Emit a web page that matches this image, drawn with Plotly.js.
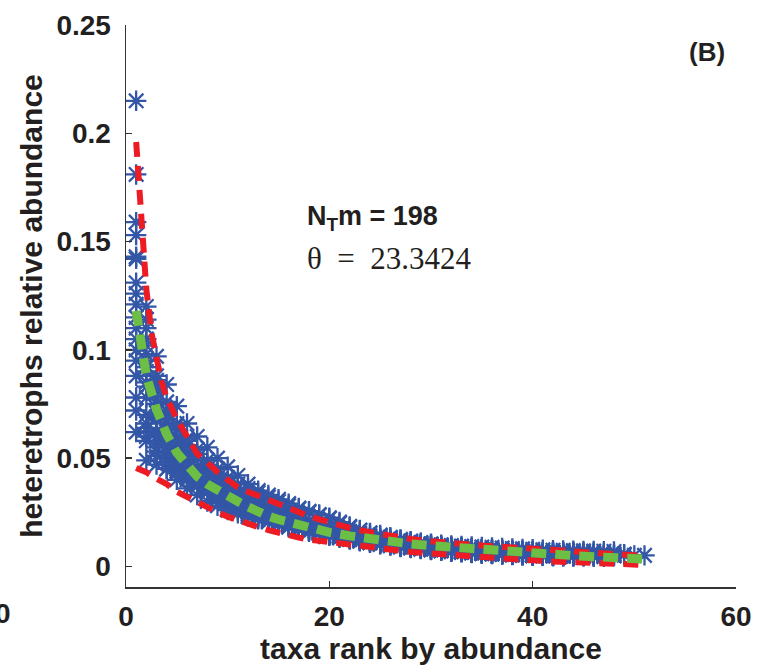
<!DOCTYPE html>
<html>
<head>
<meta charset="utf-8">
<script src="https://cdn.plot.ly/plotly-3.0.1.min.js"></script>
<style>html,body{margin:0;padding:0;background:#fff;}#chart{width:757px;height:667px;}</style>
</head>
<body>
<div id="chart"></div>
<script>
// Simulated ranked relative abundances (one array per realization; index+1 = rank)
var sim1 = [0.215,0.114,0.083,0.070,0.060,0.052,0.046,0.041,0.037,0.034,0.031,0.028,0.026,0.024,0.022,0.0205,0.019,0.0178,0.0166,0.0155,0.0145,0.0136,0.0128,0.0121,0.0114,0.0108,0.0103,0.0099,0.0095,0.0092,0.0089,0.0086,0.0083,0.0080,0.0078,0.0076,0.0074,0.0072,0.0070,0.0068,0.0066,0.0065,0.0064,0.0063];
var sim2 = [0.181,0.105,0.086,0.072,0.063,0.056,0.050,0.045,0.041,0.037,0.034,0.031,0.0285,0.026,0.024,0.022,0.0205,0.019,0.0178,0.0167,0.0157,0.0148,0.0139,0.0131,0.0124,0.0117,0.0111,0.0105,0.0100,0.0096,0.0092,0.0089,0.0086,0.0083,0.0080,0.0078,0.0076,0.0074,0.0072,0.0070,0.0068,0.0067,0.0066,0.0065,0.0064,0.0063];
var sim3 = [0.159,0.120,0.097,0.084,0.074,0.066,0.060,0.055,0.050,0.046,0.042,0.038,0.035,0.033,0.031,0.029,0.027,0.0255,0.024,0.022,0.020,0.018,0.0165,0.0155,0.0145,0.0135,0.0125,0.0117,0.0110,0.0105,0.0100,0.0097,0.0094,0.0092,0.0090,0.0088,0.0085,0.0083,0.0081,0.0079,0.0077,0.0075,0.0074,0.0073,0.0072,0.0071,0.0070,0.0069];
var sim4 = [0.062,0.049,0.047,0.045,0.043,0.040,0.037,0.034,0.031,0.028,0.026,0.024,0.0225,0.021,0.0197,0.0185,0.0174,0.0164,0.0155,0.0146,0.0138,0.0130,0.0122,0.0115,0.0108,0.0101,0.0095,0.0089,0.0084,0.0079,0.0075,0.0071,0.0068,0.0065,0.0062,0.0059,0.0057,0.0055,0.0053,0.0051,0.0050,0.0049];
var sim5 = [0.153,0.098,0.080,0.068,0.058,0.051,0.046,0.042,0.038,0.035,0.032,0.029,0.027,0.025,0.023,0.0215,0.020,0.0187,0.0175,0.0164,0.0154,0.0145,0.0137,0.0129,0.0122,0.0115,0.0109,0.0103,0.0098,0.0093,0.0088,0.0084,0.0080,0.0077,0.0074,0.0071,0.0068,0.0066,0.0064,0.0062,0.0060,0.0058,0.0057,0.0056,0.0055,0.0054,0.0053,0.0052,0.0052,0.0051,0.0051];
var sim6 = [0.143,0.092,0.071,0.060,0.053,0.048,0.044,0.040,0.036,0.033,0.030,0.0275,0.025,0.0232,0.0215,0.020,0.0187,0.0175,0.0164,0.0154,0.0145,0.0136,0.0128,0.0120,0.0113,0.0106,0.0100,0.0094,0.0089,0.0084,0.0080,0.0076,0.0072,0.0069,0.0066,0.0063,0.0060,0.0058,0.0056,0.0054,0.0052,0.0050,0.0049,0.0048,0.0047,0.0046,0.0045];
var sim7 = [0.142,0.110,0.075,0.064,0.056,0.049,0.043,0.039,0.035,0.032,0.029,0.027,0.025,0.0235,0.022,0.0207,0.0195,0.0184,0.0173,0.0163,0.0153,0.0143,0.0134,0.0125,0.0117,0.0110,0.0104,0.0098,0.0093,0.0088,0.0083,0.0079,0.0075,0.0072,0.0069,0.0066,0.0063,0.0061,0.0059,0.0057,0.0055,0.0053,0.0052,0.0051,0.0050,0.0049];
var sim8 = [0.131,0.085,0.068,0.058,0.050,0.045,0.041,0.038,0.035,0.0325,0.030,0.028,0.026,0.024,0.0225,0.021,0.0197,0.0185,0.0174,0.0164,0.0155,0.0147,0.0139,0.0132,0.0125,0.0118,0.0112,0.0106,0.0100,0.0096,0.0092,0.0088,0.0084,0.0081,0.0078,0.0075,0.0073,0.0071,0.0069,0.0067,0.0065,0.0064,0.0063,0.0062,0.0061,0.0060,0.0059,0.0058,0.0057];
var sim9 = [0.126,0.102,0.088,0.076,0.066,0.058,0.052,0.047,0.043,0.039,0.036,0.033,0.030,0.028,0.026,0.024,0.0225,0.021,0.0197,0.0185,0.0173,0.0162,0.0152,0.0142,0.0133,0.0125,0.0118,0.0111,0.0105,0.0099,0.0094,0.0089,0.0084,0.0080,0.0076,0.0073,0.0070,0.0067,0.0064,0.0062,0.0060,0.0058,0.0056,0.0055,0.0054];
var sim10 = [0.115,0.078,0.062,0.053,0.047,0.043,0.039,0.036,0.033,0.030,0.028,0.026,0.024,0.0225,0.021,0.0195,0.0182,0.0170,0.0159,0.0149,0.0140,0.0132,0.0124,0.0117,0.0110,0.0104,0.0098,0.0092,0.0087,0.0082,0.0078,0.0074,0.0070,0.0067,0.0064,0.0061,0.0058,0.0056,0.0054,0.0052,0.0050,0.0048,0.0047,0.0046];
var sim11 = [0.105,0.070,0.058,0.050,0.045,0.041,0.038,0.035,0.032,0.029,0.027,0.025,0.023,0.0215,0.020,0.0187,0.0175,0.0164,0.0154,0.0144,0.0135,0.0126,0.0118,0.0110,0.0103,0.0097,0.0091,0.0086,0.0081,0.0077,0.0073,0.0069,0.0066,0.0063,0.0060,0.0058,0.0056,0.0054,0.0052,0.0050,0.0049,0.0048,0.0047];
var sim12 = [0.095,0.083,0.069,0.061,0.054,0.049,0.045,0.041,0.037,0.034,0.031,0.029,0.027,0.025,0.023,0.0215,0.020,0.0188,0.0177,0.0167,0.0158,0.0149,0.0140,0.0132,0.0124,0.0117,0.0110,0.0104,0.0098,0.0092,0.0087,0.0082,0.0078,0.0074,0.0071,0.0068,0.0065,0.0062,0.0060,0.0058,0.0056,0.0054,0.0053,0.0052,0.0051,0.0050,0.0049,0.0048];
var sim13 = [0.088,0.064,0.055,0.050,0.046,0.042,0.039,0.036,0.033,0.031,0.029,0.027,0.025,0.0235,0.022,0.0205,0.019,0.0177,0.0165,0.0154,0.0144,0.0135,0.0126,0.0118,0.0110,0.0103,0.0097,0.0091,0.0086,0.0081,0.0077,0.0073,0.0070,0.0067,0.0064,0.0061,0.0059,0.0057,0.0055,0.0053,0.0051,0.0050,0.0049,0.0048,0.0047,0.0046];
var sim14 = [0.078,0.060,0.053,0.048,0.044,0.041,0.038,0.035,0.032,0.029,0.027,0.025,0.0235,0.022,0.0205,0.019,0.0178,0.0167,0.0157,0.0148,0.0139,0.0131,0.0123,0.0116,0.0109,0.0102,0.0096,0.0090,0.0085,0.0080,0.0076,0.0072,0.0068,0.0065,0.0062,0.0059,0.0057,0.0055,0.0053,0.0051,0.0050,0.0049];
var sim15 = [0.121,0.095,0.077,0.066,0.057,0.050,0.045,0.040,0.036,0.033,0.030,0.028,0.026,0.0245,0.023,0.0215,0.020,0.0186,0.0173,0.0161,0.0150,0.0140,0.0131,0.0123,0.0115,0.0108,0.0101,0.0095,0.0090,0.0085,0.0080,0.0076,0.0072,0.0069,0.0066,0.0063,0.0061,0.0059,0.0057,0.0055,0.0054,0.0053,0.0052,0.0051];
var sim16 = [0.072,0.058,0.051,0.045,0.040,0.036,0.033,0.030,0.028,0.026,0.0245,0.023,0.0218,0.0205,0.0193,0.0181,0.0171,0.0160,0.0150,0.0141,0.0132,0.0124,0.0116,0.0109,0.0102,0.0096,0.0090,0.0085,0.0080,0.0076,0.0072,0.0068,0.0065,0.0062,0.0059,0.0057,0.0055,0.0053,0.0051,0.0050];
var sim17 = [0.110,0.090,0.082,0.072,0.065,0.059,0.054,0.049,0.045,0.041,0.038,0.036,0.034,0.032,0.030,0.028,0.0265,0.025,0.0237,0.0225,0.0205,0.0185,0.0168,0.0153,0.0140,0.0130,0.0122,0.0115,0.0108,0.0102,0.0097,0.0092,0.0088,0.0084,0.0080,0.0077,0.0074,0.0071,0.0069,0.0067,0.0065,0.0063,0.0062,0.0061];
var sim18 = [0.100,0.066,0.060,0.056,0.051,0.046,0.042,0.038,0.034,0.031,0.0285,0.0265,0.0245,0.023,0.0215,0.020,0.0186,0.0173,0.0161,0.0150,0.0140,0.0131,0.0122,0.0114,0.0107,0.0100,0.0094,0.0088,0.0083,0.0078,0.0074,0.0070,0.0067,0.0064,0.0061,0.0059,0.0057,0.0055,0.0053,0.0052,0.0051,0.0050,0.0049];
var simulations = [sim1,sim2,sim3,sim4,sim5,sim6,sim7,sim8,sim9,sim10,sim11,sim12,sim13,sim14,sim15,sim16,sim17,sim18];

// Upper / lower confidence curves (red dashed) and mean curve (green dashed)
var upperRank = [1,1.25,1.5,1.75,2,2.5,3,3.5,4,5,6,7,8,9,10,11,12,13,14,15,16,17,18,19,20,22,24,26,28,30,33,36,39,42,45,48,51];
var upperVal  = [0.196,0.180,0.165,0.150,0.128,0.108,0.095,0.085,0.078,0.068,0.060,0.052,0.048,0.0435,0.040,0.0365,0.0345,0.0325,0.0305,0.0285,0.0265,0.0248,0.0232,0.0217,0.0203,0.0178,0.0158,0.0141,0.0127,0.0116,0.0103,0.0093,0.0085,0.0077,0.0068,0.0058,0.0048];
var lowerRank = [1,2,3,4,5,6,7,8,9,10,11,12,13,14,15,16,17,18,20,22,24,26,28,30,33,36,39,42,45,48,51];
var lowerVal  = [0.0455,0.0435,0.0405,0.038,0.0345,0.032,0.0295,0.027,0.025,0.023,0.0212,0.0197,0.0182,0.0168,0.0155,0.0143,0.0133,0.0124,0.0112,0.0099,0.0087,0.0076,0.0067,0.0060,0.0049,0.0040,0.0031,0.0023,0.0017,0.0012,0.0007];
var meanRank  = [1,1.5,2,3,4,5,6,7,8,9,10,11,12,13,14,15,16,17,18,19,20,22,24,26,28,30,32,34,36,38,40,42,44,46,48,50,51];
var meanVal   = [0.118,0.101,0.088,0.0725,0.061,0.0525,0.0465,0.0415,0.038,0.035,0.0325,0.030,0.0275,0.025,0.0232,0.0217,0.0203,0.019,0.0178,0.0167,0.0157,0.0141,0.0127,0.0114,0.0104,0.0096,0.0088,0.0080,0.0072,0.0065,0.0059,0.0054,0.0050,0.0045,0.0041,0.0036,0.0034];

var xTickVals = [0,20,40,60];
var xTickText = ['0','20','40','60'];
var yTickVals = [0,0.05,0.1,0.15,0.2,0.25];
var yTickText = ['0','0.05','0.1','0.15','0.2','0.25'];

var simX = [], simY = [];
simulations.forEach(function(s){ s.forEach(function(v,i){ simX.push(i+1); simY.push(v); }); });

var ink = '#231f20';
var sans = 'Liberation Sans, Arial, Helvetica, sans-serif';

var traces = [
  {x: simX, y: simY, type:'scatter', mode:'markers',
   marker:{symbol:'asterisk-open', size:17, color:'#3356a6', line:{color:'#3356a6', width:2.3}}, hoverinfo:'skip'},
  {x: upperRank, y: upperVal, type:'scatter', mode:'lines', line:{color:'#ed1c24', width:6, dash:'15px,9px'}},
  {x: lowerRank, y: lowerVal, type:'scatter', mode:'lines', line:{color:'#ed1c24', width:6, dash:'15px,9px'}},
  {x: meanRank, y: meanVal, type:'scatter', mode:'lines', line:{color:'#6dbe45', width:9, dash:'15px,9px'}}
];

var axisCommon = {
  showline:true, linecolor:'#333', linewidth:1.5, ticks:'inside', ticklen:6, tickwidth:1.5, tickcolor:'#333',
  showgrid:false, zeroline:false, mirror:false,
  tickfont:{family:sans, size:28, weight:'bold', color:ink}
};

var layout = {
  width:757, height:667,
  margin:{l:126, r:21, t:25, b:80, pad:0},
  paper_bgcolor:'#fff', plot_bgcolor:'#fff',
  showlegend:false,
  xaxis: Object.assign({}, axisCommon, {
    range:[0,60], tickmode:'array', tickvals:xTickVals, ticktext:xTickText, ticklabelstandoff:4,
    title:{text:'taxa rank by abundance', font:{family:sans, size:30, weight:'bold', color:ink}, standoff:6}
  }),
  yaxis: Object.assign({}, axisCommon, {
    range:[-0.0095,0.25], tickmode:'array', tickvals:yTickVals, ticktext:yTickText, ticklabelstandoff:8,
    title:{text:'heteretrophs relative abundance', font:{family:sans, size:30, weight:'bold', color:ink}, standoff:5}
  }),
  annotations:[
    {xref:'paper', yref:'paper', x:0.952, y:0.952, xanchor:'center', yanchor:'middle', showarrow:false,
     text:'(B)', font:{family:sans, size:26, weight:'bold', color:ink}},
    {xref:'paper', yref:'paper', x:(305-126)/610, y:(587.3-218)/562.3, xanchor:'left', yanchor:'middle', showarrow:false,
     text:'N<sub>T</sub>m = 198', font:{family:sans, size:27, weight:'bold', color:ink}},
    {xref:'paper', yref:'paper', x:(305-126)/610, y:(587.3-259)/562.3, xanchor:'left', yanchor:'middle', showarrow:false,
     text:'θ\u2002=\u200223.3424', font:{family:'Liberation Serif, Times New Roman, serif', size:31, color:ink}},
    {xref:'paper', yref:'paper', x:(3-126)/610, y:(587.3-614)/562.3, xanchor:'center', yanchor:'middle', showarrow:false,
     text:'0', font:{family:sans, size:28, weight:'bold', color:ink}}
  ]
};

Plotly.newPlot('chart', traces, layout, {displayModeBar:false, staticPlot:true});
</script>
</body>
</html>
